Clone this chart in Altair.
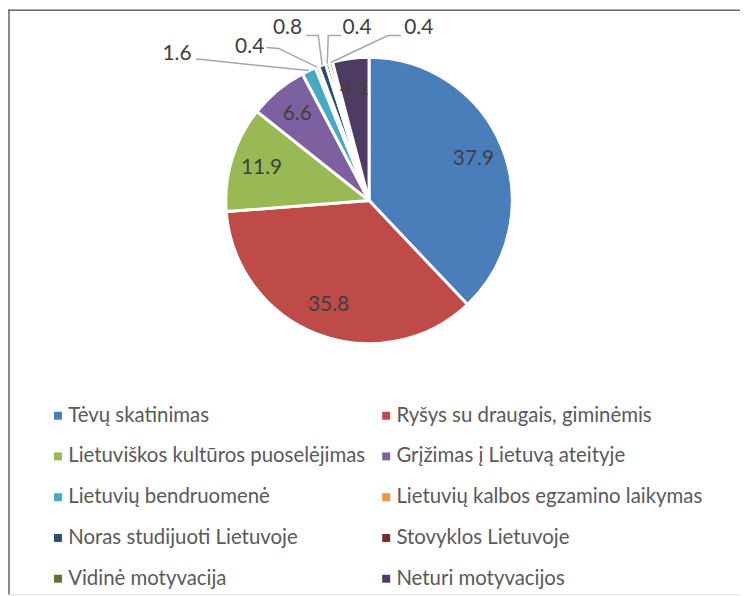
import altair as alt
import pandas as pd
import numpy as np

# ---- data ----
CATEGORIES = [
    "Tėvų skatinimas",
    "Ryšys su draugais, giminėmis",
    "Lietuviškos kultūros puoselėjimas",
    "Grįžimas į Lietuvą ateityje",
    "Lietuvių bendruomenė",
    "Lietuvių kalbos egzamino laikymas",
    "Noras studijuoti Lietuvoje",
    "Stovyklos Lietuvoje",
    "Vidinė motyvacija",
    "Neturi motyvacijos",
]
VALUES = [37.9, 35.8, 11.9, 6.6, 1.6, 0.4, 0.8, 0.4, 0.4, 4.1]
LABELS = ["37.9", "35.8", "11.9", "6.6", "1.6", "0.4", "0.8", "0.4", "0.4", "4.1"]
COLORS = ["#4A7EBB", "#BE4B48", "#98B954", "#7D60A0", "#46AAC5",
          "#F69240", "#2C4D75", "#772C2A", "#5F7530", "#4D3B62"]

# ---- layout ----
W, H = 736, 588
CX, CY, R = 363, 192, 144
LABEL_R = 113
FONT = "Lato"
# outside-label layout: index -> (text x, text y, leader start x, y, elbow x, y)
OUTSIDE = {
    4: (170, 45, 189, 50, 193, 50),
    5: (243, 38, 260, 38, 272, 39),
    6: (281, 19, 300, 26, 312, 26),
    7: (351, 19, 335, 26, 322, 26),
    8: (413, 19, 395, 26, 382, 26),
}

df = pd.DataFrame({"cat": CATEGORIES, "value": VALUES, "label": LABELS,
                   "idx": list(range(len(VALUES)))})
df["inside"] = np.where(df["value"] >= 4, df["label"], "")

total = sum(VALUES)
cum = np.cumsum(VALUES)
mid = (cum - np.array(VALUES) / 2) / total * 2 * np.pi

lines, texts = [], []
for i, (tx, ty, sx, sy, ex, ey) in OUTSIDE.items():
    px = CX + R * np.sin(mid[i])
    py = CY - R * np.cos(mid[i])
    for k, (x, y) in enumerate([(sx, sy), (ex, ey), (px, py)]):
        lines.append({"id": i, "pt": k, "x": x, "y": y})
    texts.append({"id": i, "x": tx, "y": ty, "label": LABELS[i]})
lines_df = pd.DataFrame(lines)
texts_df = pd.DataFrame(texts)

xs = alt.Scale(domain=[0, W], range=[0, W], nice=False, zero=False)
ys = alt.Scale(domain=[0, H], range=[0, H], nice=False, zero=False)

base = alt.Chart(df).encode(
    theta=alt.Theta("value:Q", stack=True),
    order=alt.Order("idx:Q", sort="ascending"),
)

arcs = base.mark_arc(outerRadius=R, stroke="white", strokeWidth=3).encode(
    x=alt.value(CX), y=alt.value(CY),
    color=alt.Color(
        "cat:N",
        scale=alt.Scale(domain=CATEGORIES, range=COLORS),
        sort=CATEGORIES,
        legend=alt.Legend(
            title=None, orient="none", legendX=40, legendY=398,
            direction="horizontal",
            columns=2, symbolType="square", symbolSize=64,
            symbolStrokeWidth=0, labelFont=FONT, labelFontSize=20.5,
            labelColor="#595959", labelLimit=500, labelOffset=0,
            rowPadding=20, columnPadding=10, padding=0,
        ),
    ),
)

inner = base.mark_text(radius=LABEL_R, font=FONT, fontSize=21, color="#404040").encode(
    x=alt.value(CX), y=alt.value(CY), text="inside:N"
)

leaders = alt.Chart(lines_df).mark_line(color="#A6A6A6", strokeWidth=1.5).encode(
    x=alt.X("x:Q", scale=xs, axis=None),
    y=alt.Y("y:Q", scale=ys, axis=None),
    detail="id:N",
    order="pt:Q",
)

outer = alt.Chart(texts_df).mark_text(font=FONT, fontSize=21, color="#404040").encode(
    x=alt.X("x:Q", scale=xs, axis=None),
    y=alt.Y("y:Q", scale=ys, axis=None),
    text="label:N",
)

frame_df = pd.DataFrame({"a": [0]})
frame_left = alt.Chart(frame_df).mark_rule(color="#6B6B6B", strokeWidth=1.5).encode(
    x=alt.value(1), y=alt.value(0), y2=alt.value(H)
)
frame_top = alt.Chart(frame_df).mark_rule(color="#6B6B6B", strokeWidth=1.5).encode(
    x=alt.value(0), x2=alt.value(W), y=alt.value(0.75)
)

chart = alt.layer(arcs, inner, leaders, outer, frame_left, frame_top).properties(
    width=W, height=H, padding=0, autosize=alt.AutoSizeParams(type="none"),
).configure_view(stroke=None).configure(background="white")

chart.save("out.html", embed_options={"renderer": "svg", "actions": False})
